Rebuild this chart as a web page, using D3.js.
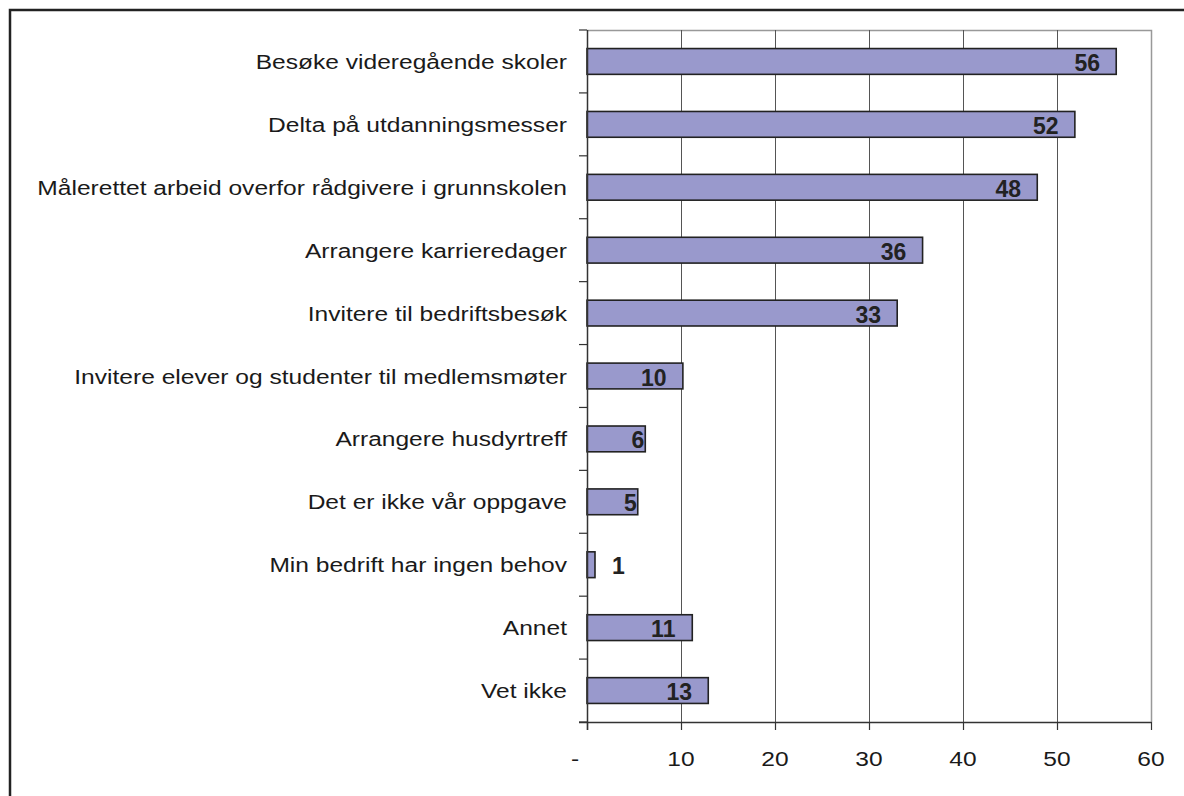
<!DOCTYPE html>
<html><head><meta charset="utf-8">
<script src="https://cdn.jsdelivr.net/npm/d3@7"></script>
<style>body{margin:0;background:#fff} svg{display:block}</style></head>
<body>
<svg id="c" width="1184" height="796"></svg>
<script>
const categories = [
  "Besøke videregående skoler",
  "Delta på utdanningsmesser",
  "Målerettet arbeid overfor rådgivere i grunnskolen",
  "Arrangere karrieredager",
  "Invitere til bedriftsbesøk",
  "Invitere elever og studenter til medlemsmøter",
  "Arrangere husdyrtreff",
  "Det er ikke vår oppgave",
  "Min bedrift har ingen behov",
  "Annet",
  "Vet ikke"
];
const values = [56.3, 51.9, 47.9, 35.7, 33.0, 10.2, 6.2, 5.4, 0.85, 11.2, 12.9];
const valueLabels = ["56", "52", "48", "36", "33", "10", "6", "5", "1", "11", "13"];
const xTicks = [0, 10, 20, 30, 40, 50, 60];
const xTickLabels = ["-", "10", "20", "30", "40", "50", "60"];

const svg = d3.select("#c");
const L = 587, R = 1151, T = 30, B = 722;
const x = d3.scaleLinear().domain([0, 60]).range([L, R]);
const y = d3.scaleBand().domain(categories).range([T, B]).paddingInner(0.59).paddingOuter(0.295);
const step = y.step();
const SX = 1.17;
const font = "'Liberation Sans', Arial, sans-serif";

// outer frame
svg.append("rect").attr("x", 10).attr("y", 10).attr("width", 1200).attr("height", 800)
  .attr("fill", "none").attr("stroke", "#222").attr("stroke-width", 2.5);

// plot border (top & right)
svg.append("path").attr("d", `M${L},${T + 0.5}H${R + 0.5}V${B}`)
  .attr("fill", "none").attr("stroke", "#999").attr("stroke-width", 1.5);

// gridlines
svg.append("g").selectAll("line").data(xTicks.filter(t => t > 0 && t < 60)).join("line")
  .attr("x1", d => Math.round(x(d)) + 0.5).attr("x2", d => Math.round(x(d)) + 0.5)
  .attr("y1", T).attr("y2", B)
  .attr("stroke", "#555").attr("stroke-width", 1);

// bars
svg.append("g").selectAll("rect").data(values).join("rect")
  .attr("x", x(0))
  .attr("y", (d, i) => y(categories[i]))
  .attr("width", d => x(d) - x(0))
  .attr("height", y.bandwidth())
  .attr("fill", "#9999cc")
  .attr("stroke", "#222").attr("stroke-width", 1.6);

// y axis line & ticks
svg.append("line").attr("x1", L + 0.5).attr("x2", L + 0.5).attr("y1", T).attr("y2", B + 8)
  .attr("stroke", "#333").attr("stroke-width", 1.5);
svg.append("g").selectAll("line").data(d3.range(categories.length + 1)).join("line")
  .attr("x1", L - 8).attr("x2", L)
  .attr("y1", i => T + i * step).attr("y2", i => T + i * step)
  .attr("stroke", "#333").attr("stroke-width", 1.2);

// x axis line & ticks
svg.append("line").attr("x1", L - 8).attr("x2", R + 0.5).attr("y1", B + 0.5).attr("y2", B + 0.5)
  .attr("stroke", "#333").attr("stroke-width", 1.5);
svg.append("g").selectAll("line").data(xTicks).join("line")
  .attr("x1", d => Math.round(x(d)) + 0.5).attr("x2", d => Math.round(x(d)) + 0.5)
  .attr("y1", B).attr("y2", B + 8)
  .attr("stroke", "#333").attr("stroke-width", 1.2);

// x tick labels
svg.append("g").selectAll("text").data(xTicks).join("text")
  .attr("transform", (d, i) => `translate(${x(d) + (i === 0 ? -12 : 0)},${B + 44}) scale(${SX},1)`)
  .attr("text-anchor", "middle")
  .attr("font-family", font).attr("font-size", 21).attr("fill", "#1a1a1a")
  .text((d, i) => xTickLabels[i]);

// category labels
svg.append("g").selectAll("text").data(categories).join("text")
  .attr("transform", d => `translate(567,${y(d) + y.bandwidth() / 2 + 7.5}) scale(${SX},1)`)
  .attr("text-anchor", "end")
  .attr("font-family", font).attr("font-size", 21).attr("fill", "#1a1a1a")
  .text(d => d);

// value labels
svg.append("g").selectAll("text").data(values).join("text")
  .each(function (d, i) {
    const end = x(d);
    const w = end - x(0);
    let px, anchor;
    if (w > 60) { px = end - 29; anchor = "middle"; }
    else if (w > 20) { px = end - 1; anchor = "end"; }
    else { px = end + 17; anchor = "start"; }
    d3.select(this)
      .attr("x", px)
      .attr("y", y(categories[i]) + y.bandwidth() / 2 + 9.5)
      .attr("text-anchor", anchor);
  })
  .attr("font-family", font).attr("font-size", 23).attr("font-weight", "bold").attr("fill", "#222")
  .text((d, i) => valueLabels[i]);
</script>
</body></html>
